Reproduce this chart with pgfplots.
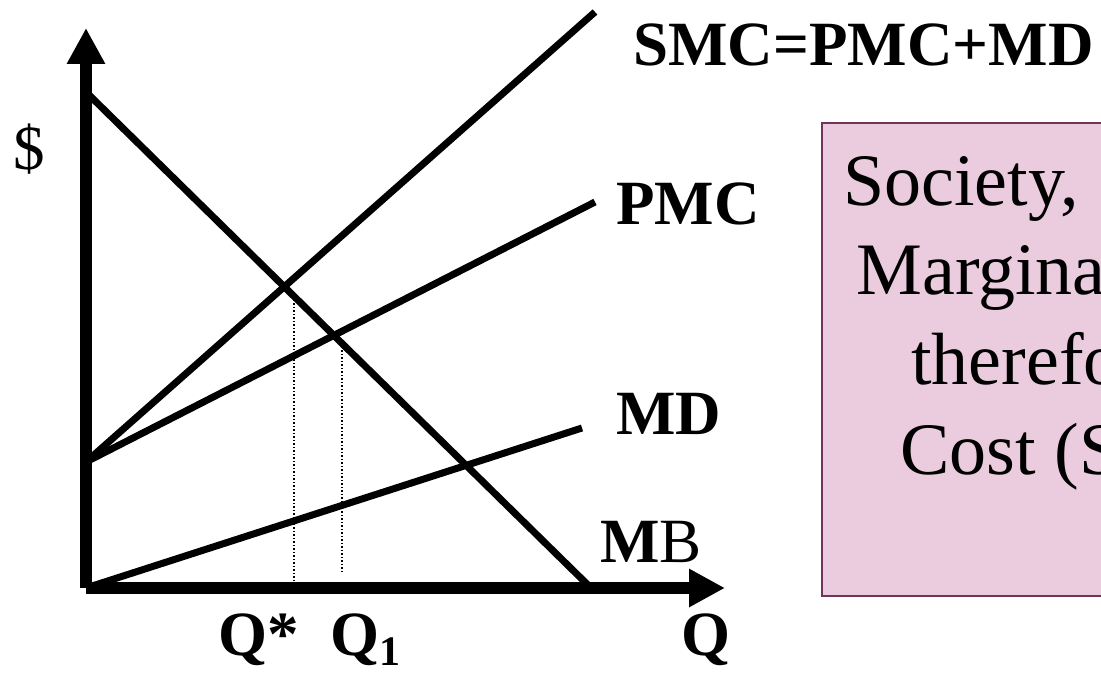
\documentclass[border=0pt]{standalone}
\usepackage{pgfplots}
\pgfplotsset{compat=1.18}
\usepackage{fontspec}
\setmainfont{Liberation Serif}
\usetikzlibrary{arrows.meta}
\definecolor{boxfill}{RGB}{235,204,222}
\definecolor{boxedge}{RGB}{112,52,90}
\newcommand\labfont{\fontsize{31.5}{36}\selectfont\bfseries}
\newcommand\boxfont{\fontsize{37}{44}\selectfont}
\begin{document}
\begin{tikzpicture}
\path (0,0) rectangle (550.5pt,336.5pt);
\begin{scope}
\clip (0,0) rectangle (550.5pt,336.5pt);
\draw[fill=boxfill, draw=boxedge, line width=0.75pt, overlay] (411pt,38.5pt) rectangle (570pt,275pt);
\node[overlay, anchor=base west, font=\boxfont, inner sep=0pt] at (421.5pt,233.5pt) {Society,};
\node[overlay, anchor=base west, font=\boxfont, inner sep=0pt] at (428pt,189pt) {Marginal Damage};
\node[overlay, anchor=base west, font=\boxfont, inner sep=0pt] at (455.5pt,144pt) {therefore Social};
\node[overlay, anchor=base west, font=\boxfont, inner sep=0pt] at (450pt,99pt) {Cost (SMC)};
\end{scope}
\begin{axis}[
  at={(43pt,42.5pt)}, anchor=south west,
  x=0.5pt, y=0.5pt,
  xmin=0, xmax=639, ymin=0, ymax=560,
  axis lines=left,
  axis line style={line width=6pt, black},
  x axis line style={-{Triangle[length=18pt,width=18pt]}},
  y axis line style={-{Triangle[length=18pt,width=18pt]}},
  xtick=\empty, ytick=\empty,
  clip=false,
]
% curves
\addplot[black, line width=3.5pt, no markers] coordinates {(0,496) (505,0)};   % MB
\addplot[black, line width=3.5pt, no markers] coordinates {(0,126) (509,576)}; % SMC
\addplot[black, line width=3.5pt, no markers] coordinates {(0,126) (509,386)}; % PMC
\addplot[black, line width=3.5pt, no markers] coordinates {(0,0) (496,160)};   % MD
\addplot[black, line width=0.75pt, densely dotted, no markers] coordinates {(208,288) (208,0)};
\addplot[black, line width=0.75pt, densely dotted, no markers] coordinates {(256,241) (256,16)};
% labels
\node[anchor=base west, font=\labfont, inner sep=0pt] at (547,522) {SMC=PMC+MD};
\node[anchor=base west, font=\labfont, inner sep=0pt] at (530,363) {PMC};
\node[anchor=base west, font=\labfont, inner sep=0pt] at (530,153) {MD};
\node[anchor=base west, font=\labfont, inner sep=0pt] at (514,25) {M\mdseries B};
\node[anchor=base west, font=\labfont, inner sep=0pt] at (595,-68) {Q};
\node[anchor=base west, font=\labfont, inner sep=0pt] at (132,-68) {Q*};
\node[anchor=base west, font=\labfont, inner sep=0pt] at (244,-68) {Q\raisebox{-5pt}{\fontsize{21}{21}\selectfont 1}};
\node[anchor=base west, font=\fontsize{31.5}{36}\selectfont, inner sep=0pt] at (-73,418) {\$};
\end{axis}
\end{tikzpicture}
\end{document}
